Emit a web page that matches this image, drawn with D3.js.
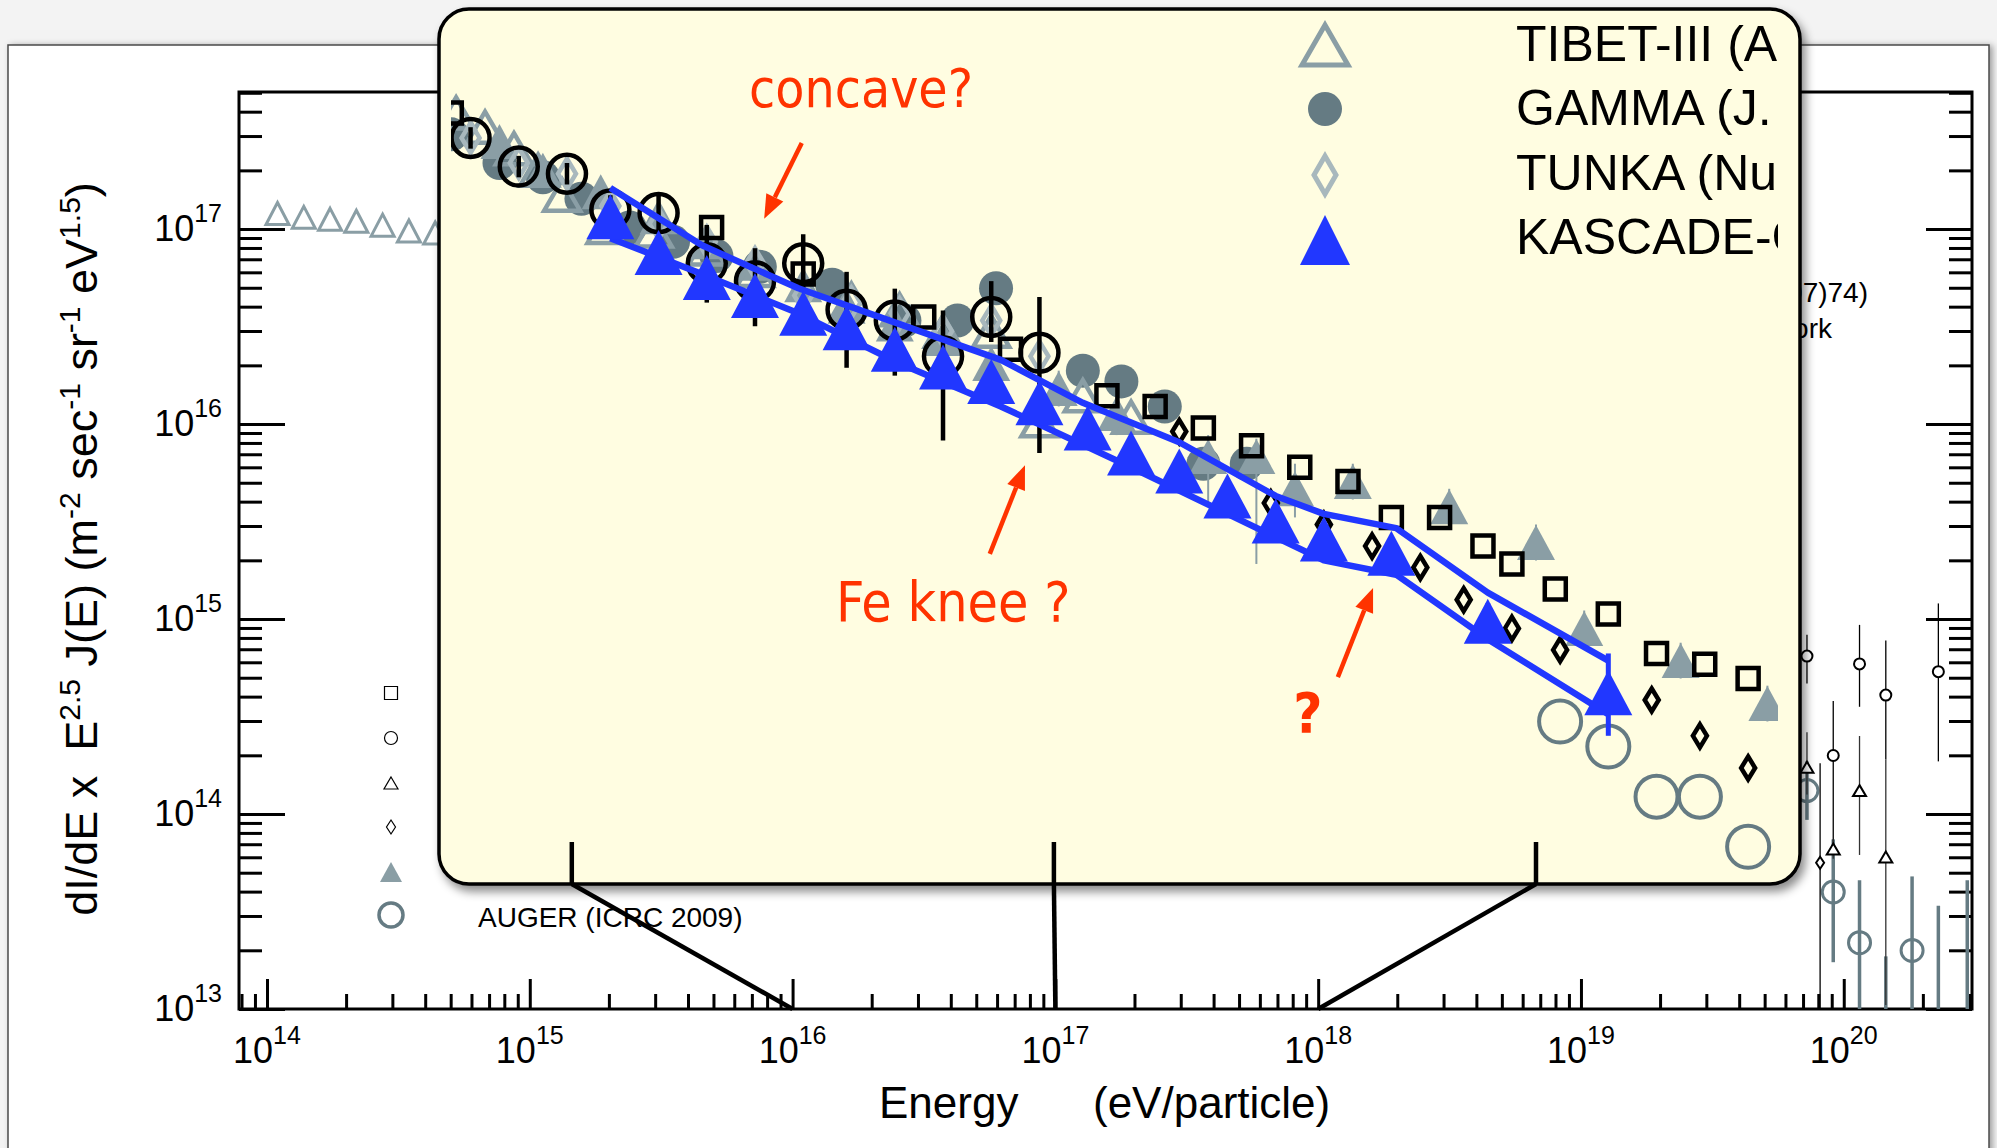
<!DOCTYPE html>
<html lang="en">
<head>
<meta charset="UTF-8">
<title>All-particle spectrum with KASCADE-Grande zoom</title>
<script src="https://cdn.jsdelivr.net/npm/d3@7/dist/d3.min.js"></script>
<style>
  body { margin: 0; background: #f3f3f3; }
  svg { display: block; }
</style>
</head>
<body>
<script>
var W = 1997, H = 1148;

// every value below is log10(E / eV) or log10(E^2.5 x dI/dE)

// ---- outer plot (full range) ----
var tibetOutE = [14.04, 14.14, 14.24, 14.34, 14.44, 14.54, 14.64, 14.74];
var tibetOutF = [17.08, 17.06, 17.05, 17.04, 17.02, 16.99, 16.98, 16.96];

var agasaE  = [19.86, 19.96, 20.06, 20.16, 20.36];
var agasaF  = [14.81, 14.30, 14.77, 14.61, 14.73];
var agasaUp = [0.11, 0.28, 0.20, 0.28, 0.35];
var agasaDn = [0.14, 0.50, 0.22, 0.33, 0.46];

var yakE  = [19.86, 19.96, 20.06, 20.16];
var yakF  = [14.24, 13.82, 14.12, 13.78];
var yakUp = [0.18, 0.05, 0.28, 0.50];
var yakDn = [0.14, 0.05, 0.33, 0.76];

var flyE  = [19.91];
var flyF  = [13.75];
var flyUp = [0.51];
var flyDn = [0.80];

var augerOutE  = [19.86, 19.96, 20.06, 20.16, 20.26, 20.36, 20.47];
var augerOutF  = [14.12, 13.60, 13.34, 12.80, 13.30, 12.80, 12.80];
var augerOutUp = [0.15, 0.27, 0.32, 0.47, 0.38, 0.73, 0.86];
var augerOutDn = [0.15, 0.36, 0.40, 0.00, 0.40, 0.00, 0.00];

// ---- zoomed inset (10^15.75 .. 10^18.5 eV) ----
var kgE = [16.08, 16.18, 16.28, 16.38, 16.48, 16.57, 16.67, 16.77, 16.87, 16.97,
           17.07, 17.16, 17.26, 17.36, 17.46, 17.56, 17.70, 17.90, 18.15];
var kgF = [16.85, 16.75, 16.68, 16.63, 16.58, 16.54, 16.48, 16.43, 16.39, 16.33,
           16.26, 16.19, 16.14, 16.07, 16.00, 15.95, 15.91, 15.72, 15.52];
var kgUp = [0.02, 0.02, 0.02, 0.02, 0.02, 0.02, 0.02, 0.02, 0.02, 0.02,
            0.02, 0.02, 0.02, 0.02, 0.02, 0.02, 0.03, 0.05, 0.11];
var kgDn = [0.02, 0.02, 0.02, 0.02, 0.02, 0.02, 0.02, 0.02, 0.02, 0.02,
            0.02, 0.02, 0.02, 0.02, 0.02, 0.02, 0.03, 0.05, 0.12];

var bandHiE = [16.08, 16.27, 16.47, 16.68, 16.89, 17.06, 17.26, 17.46, 17.56, 17.71, 17.90, 18.15];
var bandHiF = [16.93, 16.77, 16.65, 16.55, 16.45, 16.33, 16.22, 16.07, 16.02, 15.98, 15.80, 15.61];
var bandLoE = [16.08, 16.27, 16.47, 16.68, 16.89, 17.16, 17.36, 17.56, 17.71, 17.90, 18.15];
var bandLoF = [16.79, 16.69, 16.58, 16.44, 16.32, 16.15, 16.02, 15.89, 15.85, 15.67, 15.46];

var tibetE = [15.76, 15.82, 15.88, 15.93, 15.98, 16.07, 16.17, 16.28, 16.38, 16.48,
              16.58, 16.68, 16.77, 16.87, 16.97, 17.06, 17.16];
var tibetF = [17.14, 17.10, 17.04, 16.98, 16.91, 16.82, 16.81, 16.76, 16.70, 16.57,
              16.62, 16.59, 16.53, 16.53, 16.28, 16.35, 16.29];

var gammaE = [15.75, 15.85, 15.94, 16.02, 16.12, 16.21, 16.30, 16.39, 16.54, 16.69,
              16.80, 16.88, 17.06, 17.14, 17.23, 17.31, 17.40];
var gammaF = [17.08, 17.00, 16.96, 16.90, 16.82, 16.78, 16.74, 16.71, 16.66, 16.56,
              16.56, 16.65, 16.42, 16.39, 16.32, 16.16, 16.16];

var tunkaE = [15.79, 15.89, 15.99, 16.08, 16.18, 16.28, 16.38, 16.48, 16.58, 16.68, 16.77, 16.87, 16.97];
var tunkaF = [17.07, 17.00, 16.97, 16.88, 16.83, 16.78, 16.72, 16.63, 16.61, 16.58, 16.53, 16.56, 16.46];

var ringE  = [15.79, 15.89, 15.99, 16.08, 16.18, 16.28, 16.38, 16.48, 16.57, 16.67, 16.77, 16.87, 16.97];
var ringF  = [17.07, 16.99, 16.97, 16.87, 16.86, 16.72, 16.67, 16.72, 16.59, 16.56, 16.46, 16.57, 16.47];
var ringUp = [0.03, 0.03, 0.03, 0.04, 0.056, 0.107, 0.092, 0.081, 0.106, 0.089, 0.128, 0.10, 0.156];
var ringDn = [0.03, 0.03, 0.03, 0.04, 0.056, 0.11, 0.126, 0.08, 0.162, 0.154, 0.235, 0.07, 0.28];

var hiresE = [15.75, 16.29, 16.48, 16.73, 16.91, 17.11, 17.21, 17.31, 17.41, 17.51,
              17.61, 17.70, 17.80, 17.89, 17.95, 18.04, 18.15, 18.25, 18.35, 18.44];
var hiresF = [17.14, 16.82, 16.69, 16.57, 16.48, 16.35, 16.32, 16.26, 16.21, 16.15,
              16.11, 16.01, 16.01, 15.93, 15.88, 15.81, 15.74, 15.63, 15.60, 15.56];

var diaE = [17.26, 17.45, 17.56, 17.66, 17.76, 17.85, 17.95, 18.05, 18.24, 18.34, 18.44];
var diaF = [16.25, 16.05, 15.99, 15.93, 15.87, 15.78, 15.70, 15.64, 15.50, 15.40, 15.31];

var gtriE  = [15.85, 15.94, 16.06, 16.18, 16.28, 16.38, 16.48, 16.57, 16.67, 16.77, 16.87,
              17.01, 17.13, 17.32, 17.42, 17.50, 17.62, 17.82, 18.00, 18.10, 18.30, 18.48];
var gtriF  = [17.06, 16.98, 16.92, 16.85, 16.78, 16.72, 16.66, 16.60, 16.55, 16.51, 16.44,
              16.37, 16.30, 16.18, 16.18, 16.09, 16.11, 16.04, 15.94, 15.70, 15.61, 15.49];
var gtriUp = [0.03, 0.03, 0.03, 0.03, 0.03, 0.03, 0.03, 0.03, 0.03, 0.03, 0.04,
              0.05, 0.06, 0.06, 0.05, 0.07, 0.05, 0.05, 0.05, 0.05, 0.05, 0.05];
var gtriDn = [0.03, 0.03, 0.03, 0.03, 0.03, 0.03, 0.03, 0.03, 0.03, 0.03, 0.04,
              0.05, 0.06, 0.14, 0.30, 0.08, 0.05, 0.05, 0.05, 0.05, 0.05, 0.05];

var augerE = [18.05, 18.15, 18.25, 18.34, 18.44];
var augerF = [15.44, 15.37, 15.23, 15.23, 15.09];

var insetLegend = ["TIBET-III (ApJ 678 (2008) 1165)", "GAMMA (J. Phys. G 35 (2008) 115201)",
                   "TUNKA (Nucl. Phys. B Proc. Suppl.)", "KASCADE-Grande (this work)"];

// annotations, in inset data coordinates [logE, logF]
var notes = [
  { text: "concave?", at: [16.60, 17.156], from: [16.477, 17.056], to: [16.399, 16.844], bold: false, size: 53 },
  { text: "Fe knee ?", at: [16.791, 15.721], from: [16.867, 15.908], to: [16.940, 16.156], bold: false, size: 55 },
  { text: "?", at: [17.527, 15.411], from: [17.589, 15.564], to: [17.662, 15.813], bold: true, size: 56 }
];

function p10(v) { return Math.pow(10, v); }
function isDecade(t) { var l = Math.log10(t); return Math.abs(l - Math.round(l)) < 1e-6; }

function tri(w, h) { return "M0," + (-h / 2) + "L" + (w / 2) + "," + (h / 2) + "L" + (-w / 2) + "," + (h / 2) + "Z"; }
function dia(w, h) { return "M0," + (-h / 2) + "L" + (w / 2) + ",0L0," + (h / 2) + "L" + (-w / 2) + ",0Z"; }
function sq(s) { return "M" + (-s / 2) + "," + (-s / 2) + "h" + s + "v" + s + "h" + (-s) + "Z"; }
function circ(r) { return "M" + r + ",0A" + r + "," + r + " 0 1 1 " + (-r) + ",0A" + r + "," + r + " 0 1 1 " + r + ",0Z"; }

var svg = d3.select("body").append("svg")
  .attr("width", W).attr("height", H)
  .style("font-family", "'Liberation Sans', Arial, Helvetica, sans-serif");

var defs = svg.append("defs");
var fb = defs.append("filter").attr("id", "boxShadow")
  .attr("x", -0.05).attr("y", -0.05).attr("width", 1.12).attr("height", 1.15);
fb.append("feDropShadow").attr("dx", 4).attr("dy", 6).attr("stdDeviation", 5)
  .attr("flood-color", "#000").attr("flood-opacity", 0.45);
var fp = defs.append("filter").attr("id", "panelShadow")
  .attr("x", -0.02).attr("y", -0.02).attr("width", 1.05).attr("height", 1.05);
fp.append("feDropShadow").attr("dx", 3).attr("dy", 1).attr("stdDeviation", 3)
  .attr("flood-color", "#000").attr("flood-opacity", 0.35);
defs.append("clipPath").attr("id", "plotClip").append("rect")
  .attr("x", 239).attr("y", 92).attr("width", 1733).attr("height", 917);
defs.append("clipPath").attr("id", "insetClip").append("rect")
  .attr("x", 451).attr("y", 12).attr("width", 1327).attr("height", 868);

// page + panel
svg.append("rect").attr("width", W).attr("height", H).attr("fill", "#f3f3f3");
svg.append("rect").attr("x", 8).attr("y", 45).attr("width", 1981).attr("height", 1160)
  .attr("fill", "#fff").attr("stroke", "#4a4a4a").attr("stroke-width", 1.5)
  .attr("filter", "url(#panelShadow)");

// ---- outer scales and axes ----
var x = d3.scaleLog().domain([p10(13.8935), p10(20.488)]).range([239, 1972]);
var y = d3.scaleLog().domain([1e13, p10(17.703)]).range([1009, 92]);

var xMaj = x.ticks().filter(isDecade), xMin = x.ticks().filter(function (t) { return !isDecade(t); });
var yMaj = y.ticks().filter(isDecade), yMin = y.ticks().filter(function (t) { return !isDecade(t); });

function styleAxis(g) {
  g.select(".domain").remove();
  g.selectAll(".tick line").attr("stroke", "#000").attr("stroke-width", 3);
  g.selectAll(".tick text").remove();
}
svg.append("g").attr("transform", "translate(0,1009)")
  .call(d3.axisBottom(x).tickValues(xMaj).tickSize(-30)).call(styleAxis);
svg.append("g").attr("transform", "translate(0,1009)")
  .call(d3.axisBottom(x).tickValues(xMin).tickSize(-15)).call(styleAxis);
svg.append("g").attr("transform", "translate(239,0)")
  .call(d3.axisLeft(y).tickValues(yMaj).tickSize(-46)).call(styleAxis);
svg.append("g").attr("transform", "translate(239,0)")
  .call(d3.axisLeft(y).tickValues(yMin).tickSize(-23)).call(styleAxis);
svg.append("g").attr("transform", "translate(1972,0)")
  .call(d3.axisRight(y).tickValues(yMaj).tickSize(-46)).call(styleAxis);
svg.append("g").attr("transform", "translate(1972,0)")
  .call(d3.axisRight(y).tickValues(yMin).tickSize(-23)).call(styleAxis);

svg.append("rect").attr("x", 239).attr("y", 92).attr("width", 1733).attr("height", 917)
  .attr("fill", "none").attr("stroke", "#000").attr("stroke-width", 3);

function powLabel(px, py, anchor, k) {
  var t = svg.append("text").attr("x", px).attr("y", py)
    .attr("text-anchor", anchor).attr("font-size", 36).attr("fill", "#000");
  t.append("tspan").text("10");
  t.append("tspan").attr("dy", -19).attr("font-size", 25).text(k);
}
yMaj.forEach(function (t) { powLabel(222, y(t) + 12, "end", Math.round(Math.log10(t))); });
xMaj.forEach(function (t) { powLabel(x(t), 1063, "middle", Math.round(Math.log10(t))); });

svg.append("text").attr("x", 879).attr("y", 1118).attr("font-size", 44).text("Energy");
svg.append("text").attr("x", 1093).attr("y", 1118).attr("font-size", 44).text("(eV/particle)");

var yTitle = svg.append("text")
  .attr("transform", "translate(97,549) rotate(-90)")
  .attr("text-anchor", "middle").attr("font-size", 45)
  .style("white-space", "pre");
var titleParts = [["dI/dE x  E", 0], ["2.5", 1], [" J(E) (m", 0], ["-2", 1], [" sec", 0], ["-1", 1],
                  [" sr", 0], ["-1", 1], [" eV", 0], ["1.5", 1], [")", 0]];
var raised = false;
titleParts.forEach(function (p) {
  var ts = yTitle.append("tspan").text(p[0]);
  if (p[1]) { ts.attr("dy", -17).attr("font-size", 30); raised = true; }
  else if (raised) { ts.attr("dy", 17); raised = false; }
});

// generic series drawer
function drawSeries(g, sx, sy, E, F, o) {
  var pts = E.map(function (e, i) {
    return { e: e, f: F[i], up: o.up ? o.up[i] : 0, dn: o.dn ? o.dn[i] : 0 };
  });
  if (o.up) {
    g.append("g").selectAll("line").data(pts).enter().append("line")
      .attr("x1", function (d) { return sx(p10(d.e)); })
      .attr("x2", function (d) { return sx(p10(d.e)); })
      .attr("y1", function (d) { return sy(p10(d.f + d.up)); })
      .attr("y2", function (d) { return sy(p10(d.f - d.dn)); })
      .attr("stroke", o.barColor).attr("stroke-width", o.barWidth);
  }
  g.append("g").selectAll("path").data(pts).enter().append("path")
    .attr("transform", function (d) { return "translate(" + sx(p10(d.e)) + "," + sy(p10(d.f)) + ")"; })
    .attr("d", o.shape)
    .attr("fill", o.fill || "none")
    .attr("stroke", o.stroke || "none")
    .attr("stroke-width", o.sw || 0);
}

// ---- outer data ----
var gOut = svg.append("g").attr("clip-path", "url(#plotClip)");
drawSeries(gOut, x, y, tibetOutE, tibetOutF, { shape: tri(23, 22), stroke: "#8a9ea5", sw: 3 });
drawSeries(gOut, x, y, augerOutE, augerOutF, { shape: circ(11), stroke: "#657b83", sw: 3,
  up: augerOutUp, dn: augerOutDn, barColor: "#657b83", barWidth: 3.5 });
drawSeries(gOut, x, y, agasaE, agasaF, { shape: circ(5.5), stroke: "#000", sw: 2, fill: "#fff",
  up: agasaUp, dn: agasaDn, barColor: "#000", barWidth: 1.3 });
drawSeries(gOut, x, y, yakE, yakF, { shape: tri(13, 11), stroke: "#000", sw: 2, fill: "#fff",
  up: yakUp, dn: yakDn, barColor: "#333", barWidth: 1.3 });
drawSeries(gOut, x, y, flyE, flyF, { shape: dia(8, 12), stroke: "#000", sw: 2, fill: "#fff",
  up: flyUp, dn: flyDn, barColor: "#000", barWidth: 1.3 });

// outer legend (mostly under the inset)
var legX = 391;
var legShapes = [
  { d: sq(13), stroke: "#000", sw: 1.2, y: 693 },
  { d: circ(6.5), stroke: "#000", sw: 1.2, y: 738 },
  { d: tri(14, 12), stroke: "#000", sw: 1.2, y: 783 },
  { d: dia(9, 14), stroke: "#000", sw: 1.2, y: 827 },
  { d: tri(22, 20), fill: "#8a9ea5", y: 872 },
  { d: circ(12), stroke: "#657b83", sw: 3.5, y: 915 }
];
svg.append("g").selectAll("path").data(legShapes).enter().append("path")
  .attr("transform", function (d) { return "translate(" + legX + "," + d.y + ")"; })
  .attr("d", function (d) { return d.d; })
  .attr("fill", function (d) { return d.fill || "none"; })
  .attr("stroke", function (d) { return d.stroke || "none"; })
  .attr("stroke-width", function (d) { return d.sw || 0; });
svg.append("text").attr("x", 478).attr("y", 927).attr("font-size", 28).text("AUGER (ICRC 2009)");
svg.append("text").attr("x", 1868).attr("y", 302).attr("font-size", 28).attr("text-anchor", "end")
  .text("Astropart. Phys. 27(2007)74)");
svg.append("text").attr("x", 1832).attr("y", 338).attr("font-size", 28).attr("text-anchor", "end")
  .text("This work");

// ---- inset ----
var ix = d3.scaleLog().domain([1e16, 1e18]).range([571.8, 1536]);
var iy = d3.scaleLog().domain([1e16, 1e17]).range([521, 163]);

svg.append("rect").attr("x", 439).attr("y", 9).attr("width", 1361).attr("height", 875)
  .attr("rx", 30).attr("ry", 30)
  .attr("fill", "#fffde1").attr("stroke", "#000").attr("stroke-width", 3.5)
  .attr("filter", "url(#boxShadow)");

var gIn = svg.append("g").attr("clip-path", "url(#insetClip)");
drawSeries(gIn, ix, iy, gammaE, gammaF, { shape: circ(17), fill: "#657b83" });
drawSeries(gIn, ix, iy, gtriE, gtriF, { shape: tri(38, 35), fill: "#8a9ea5",
  up: gtriUp, dn: gtriDn, barColor: "#8a9ea5", barWidth: 2 });
drawSeries(gIn, ix, iy, tibetE, tibetF, { shape: tri(36, 31), stroke: "#8a9ea5", sw: 4.5 });
drawSeries(gIn, ix, iy, tunkaE, tunkaF, { shape: dia(18, 30), stroke: "#a8b8bd", sw: 4.5 });
drawSeries(gIn, ix, iy, hiresE, hiresF, { shape: sq(21), stroke: "#000", sw: 4.5 });
drawSeries(gIn, ix, iy, ringE, ringF, { shape: circ(19), stroke: "#000", sw: 4.5,
  up: ringUp, dn: ringDn, barColor: "#000", barWidth: 4.5 });
drawSeries(gIn, ix, iy, diaE, diaF, { shape: dia(14, 23), stroke: "#000", sw: 4.5 });
drawSeries(gIn, ix, iy, augerE, augerF, { shape: circ(21), stroke: "#657b83", sw: 4 });

var band = d3.line()
  .x(function (d) { return ix(p10(d[0])); })
  .y(function (d) { return iy(p10(d[1])); });
[[bandHiE, bandHiF], [bandLoE, bandLoF]].forEach(function (b) {
  gIn.append("path").datum(b[0].map(function (e, i) { return [e, b[1][i]]; }))
    .attr("d", band).attr("fill", "none").attr("stroke", "#2137ff")
    .attr("stroke-width", 6.5).attr("stroke-linejoin", "round");
});
drawSeries(gIn, ix, iy, kgE, kgF, { shape: tri(48, 45), fill: "#2137ff",
  up: kgUp, dn: kgDn, barColor: "#2137ff", barWidth: 5 });

// inset legend
var insetLegShapes = [
  { d: tri(46, 40), stroke: "#8a9ea5", sw: 5, y: 45 },
  { d: circ(17), fill: "#657b83", y: 109 },
  { d: dia(22, 38), stroke: "#a8b8bd", sw: 5, y: 175 },
  { d: tri(50, 50), fill: "#2137ff", y: 240 }
];
gIn.append("g").selectAll("path").data(insetLegShapes).enter().append("path")
  .attr("transform", function (d) { return "translate(1325," + d.y + ")"; })
  .attr("d", function (d) { return d.d; })
  .attr("fill", function (d) { return d.fill || "none"; })
  .attr("stroke", function (d) { return d.stroke || "none"; })
  .attr("stroke-width", function (d) { return d.sw || 0; });
gIn.append("g").selectAll("text").data(insetLegend).enter().append("text")
  .attr("x", 1516).attr("y", function (d, i) { return 61 + i * 64.3; })
  .attr("font-size", 50).attr("fill", "#000")
  .text(function (d) { return d; });

// red annotations
var red = "#ff3300";
var gNote = svg.append("g");
notes.forEach(function (n) {
  gNote.append("text")
    .attr("x", ix(p10(n.at[0]))).attr("y", iy(p10(n.at[1])))
    .attr("text-anchor", "middle")
    .attr("font-family", "'DejaVu Sans Condensed', 'DejaVu Sans', sans-serif")
    .style("font-stretch", "condensed")
    .attr("font-weight", n.bold ? "bold" : "normal")
    .attr("font-size", n.size)
    .attr("fill", red).text(n.text);
  var x1 = ix(p10(n.from[0])), y1 = iy(p10(n.from[1]));
  var x2 = ix(p10(n.to[0])), y2 = iy(p10(n.to[1]));
  var a = Math.atan2(y2 - y1, x2 - x1), hl = 24, hw = 19;
  var bx = x2 - hl * Math.cos(a), by = y2 - hl * Math.sin(a);
  gNote.append("line").attr("x1", x1).attr("y1", y1).attr("x2", bx).attr("y2", by)
    .attr("stroke", red).attr("stroke-width", 4.5);
  gNote.append("path")
    .attr("d", "M" + x2 + "," + y2 +
      "L" + (bx + hw / 2 * Math.sin(a)) + "," + (by - hw / 2 * Math.cos(a)) +
      "L" + (bx - hw / 2 * Math.sin(a)) + "," + (by + hw / 2 * Math.cos(a)) + "Z")
    .attr("fill", red);
});

// zoom guides from inset ticks down to the outer energy axis
var zoomTicks = [1e16, 1e17, 1e18];
var gGuide = svg.append("g").attr("stroke", "#000").attr("stroke-width", 4.5);
zoomTicks.forEach(function (t) {
  gGuide.append("line").attr("x1", ix(t)).attr("x2", ix(t)).attr("y1", 842).attr("y2", 884);
  gGuide.append("line").attr("x1", ix(t)).attr("x2", x(t)).attr("y1", 884).attr("y2", 1009);
});
</script>
</body>
</html>
